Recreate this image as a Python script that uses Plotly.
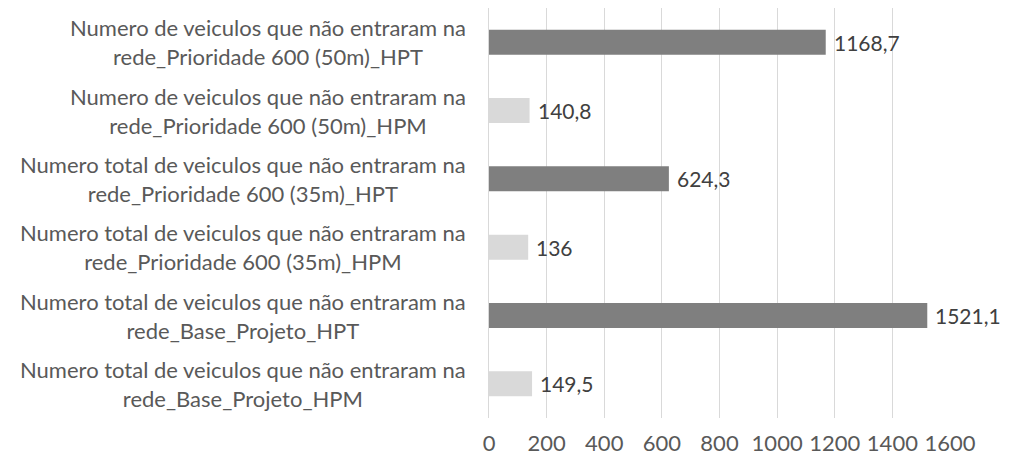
import plotly.graph_objects as go

categories = [
    "Numero total de veiculos que não entraram na<br>rede_Base_Projeto_HPM",
    "Numero total de veiculos que não entraram na<br>rede_Base_Projeto_HPT",
    "Numero total de veiculos que não entraram na<br>rede_Prioridade 600 (35m)_HPM",
    "Numero total de veiculos que não entraram na<br>rede_Prioridade 600 (35m)_HPT",
    "Numero de veiculos que não entraram na<br>rede_Prioridade 600 (50m)_HPM",
    "Numero de veiculos que não entraram na<br>rede_Prioridade 600 (50m)_HPT",
]
values = [149.5, 1521.1, 136, 624.3, 140.8, 1168.7]
bar_colors = ["#d9d9d9", "#7f7f7f", "#d9d9d9", "#7f7f7f", "#d9d9d9", "#7f7f7f"]
tick_vals = [0, 200, 400, 600, 800, 1000, 1200, 1400, 1600]

FONT = "Lato"
TXT = "#595959"
labels = [f"{v:g}".replace(".", ",") for v in values]

fig = go.Figure(go.Bar(
    y=categories, x=values, orientation="h",
    marker=dict(color=bar_colors, line=dict(width=0)),
    cliponaxis=False, hoverinfo="x+y",
))

for c, v, t in zip(categories, values, labels):
    fig.add_annotation(
        x=0, xref="paper", y=c, yref="y", xanchor="right", yanchor="middle",
        xshift=-21, text=c, showarrow=False, align="center",
        font=dict(family=FONT, size=22, color=TXT),
    )
    fig.add_annotation(
        x=v, xref="x", y=c, yref="y", xanchor="left", yanchor="middle",
        xshift=6, text=t, showarrow=False,
        font=dict(family=FONT, size=21, color="#404040"),
    )

fig.update_layout(
    width=1010, height=454,
    margin=dict(l=481, r=68, t=0, b=44, pad=0),
    paper_bgcolor="white", plot_bgcolor="white",
    bargap=0.635, showlegend=False,
    font=dict(family=FONT, size=20, color=TXT),
)
fig.update_xaxes(
    range=[0, 1600], tickvals=tick_vals, showgrid=True, gridcolor="#d9d9d9",
    gridwidth=1.3, zeroline=False, showline=False, ticks="",
    ticklabelstandoff=10,
    tickfont=dict(family=FONT, size=22, color=TXT),
)
fig.update_yaxes(
    showticklabels=False, showline=True, linecolor="#d9d9d9", linewidth=1.3,
    showgrid=False, ticks="",
)

fig.write_html("out.html")
